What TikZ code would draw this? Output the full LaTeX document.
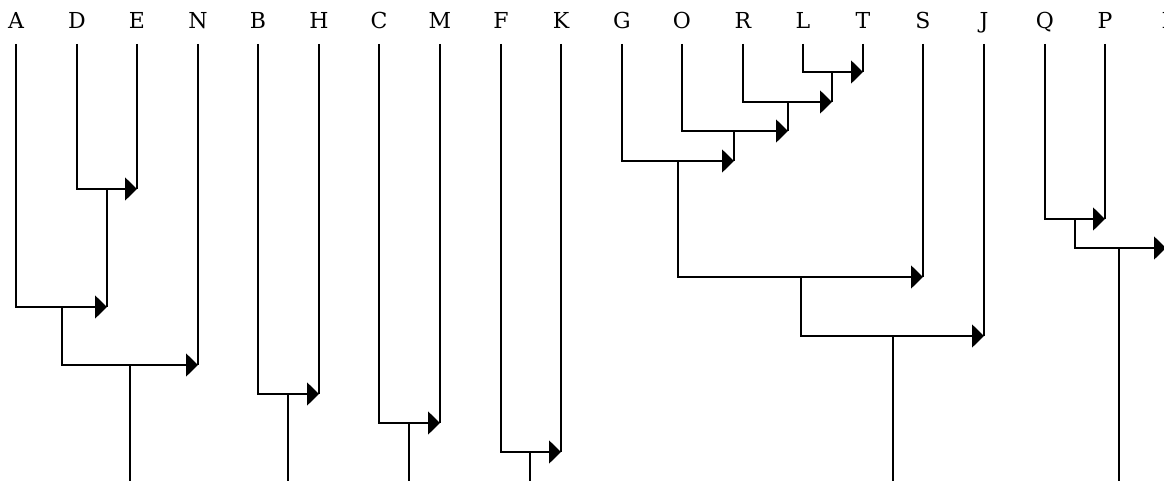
\documentclass[tikz,border=0pt]{standalone}
\usepackage{fontspec}
\newfontfamily\labfont{DejaVu Serif}
\usetikzlibrary{arrows.meta}
\tikzset{
  lab/.style={font=\labfont\fontsize{22}{22}\selectfont, inner sep=0pt, anchor=base},
  ln/.style={line width=1.7pt, black},
  arr/.style={ln, -{Triangle[length=12pt,width=23pt]}}
}
\begin{document}
\begin{tikzpicture}[x=1pt,y=-1pt]
\useasboundingbox (0,0) rectangle (1164,481);
% labels
\foreach \n/\x in {A/16,D/77,E/137,N/198,B/258,H/319,C/379,M/440,F/501,K/561,G/622,O/682,R/743,L/803,T/863,S/923,J/984,Q/1045,P/1105,I/1166}
  \node[lab] (\n) at (\x,29) {\n};
\coordinate (top) at (0,44);
\coordinate (bot) at (0,481);
% joins
\coordinate (jDE) at (107,189);
\coordinate (jA) at (62,307);
\coordinate (jN) at (130,365);
\coordinate (jBH) at (288,394);
\coordinate (jCM) at (409,423);
\coordinate (jFK) at (530,452);
\coordinate (jLT) at (832,72);
\coordinate (jR) at (788,102);
\coordinate (jO) at (734,131);
\coordinate (jG) at (678,161);
\coordinate (jS) at (801,277);
\coordinate (jJ) at (893,336);
\coordinate (jQP) at (1075,219);
\coordinate (jI) at (1119,248);
% A D E N
\draw[ln] (E |- top) -- (E |- jDE);
\draw[arr] (D |- top) |- (E |- jDE);
\draw[ln] (jDE) -- (jDE |- jA);
\draw[arr] (A |- top) |- (jDE |- jA);
\draw[ln] (N |- top) -- (N |- jN);
\draw[arr] (jA) |- (N |- jN);
\draw[ln] (jN) -- (jN |- bot);
% B H
\draw[ln] (H |- top) -- (H |- jBH);
\draw[arr] (B |- top) |- (H |- jBH);
\draw[ln] (jBH) -- (jBH |- bot);
% C M
\draw[ln] (M |- top) -- (M |- jCM);
\draw[arr] (C |- top) |- (M |- jCM);
\draw[ln] (jCM) -- (jCM |- bot);
% F K
\draw[ln] (K |- top) -- (K |- jFK);
\draw[arr] (F |- top) |- (K |- jFK);
\draw[ln] (jFK) -- (jFK |- bot);
% G O R L T S J
\draw[ln] (T |- top) -- (T |- jLT);
\draw[arr] (L |- top) |- (T |- jLT);
\draw[ln] (jLT) -- (jLT |- jR);
\draw[arr] (R |- top) |- (jLT |- jR);
\draw[ln] (jR) -- (jR |- jO);
\draw[arr] (O |- top) |- (jR |- jO);
\draw[ln] (jO) -- (jO |- jG);
\draw[arr] (G |- top) |- (jO |- jG);
\draw[ln] (S |- top) -- (S |- jS);
\draw[arr] (jG) |- (S |- jS);
\draw[ln] (J |- top) -- (J |- jJ);
\draw[arr] (jS) |- (J |- jJ);
\draw[ln] (jJ) -- (jJ |- bot);
% Q P I
\draw[ln] (P |- top) -- (P |- jQP);
\draw[arr] (Q |- top) |- (P |- jQP);
\draw[ln] (I |- top) -- (I |- jI);
\draw[arr] (jQP) |- (I |- jI);
\draw[ln] (jI) -- (jI |- bot);
\end{tikzpicture}
\end{document}
